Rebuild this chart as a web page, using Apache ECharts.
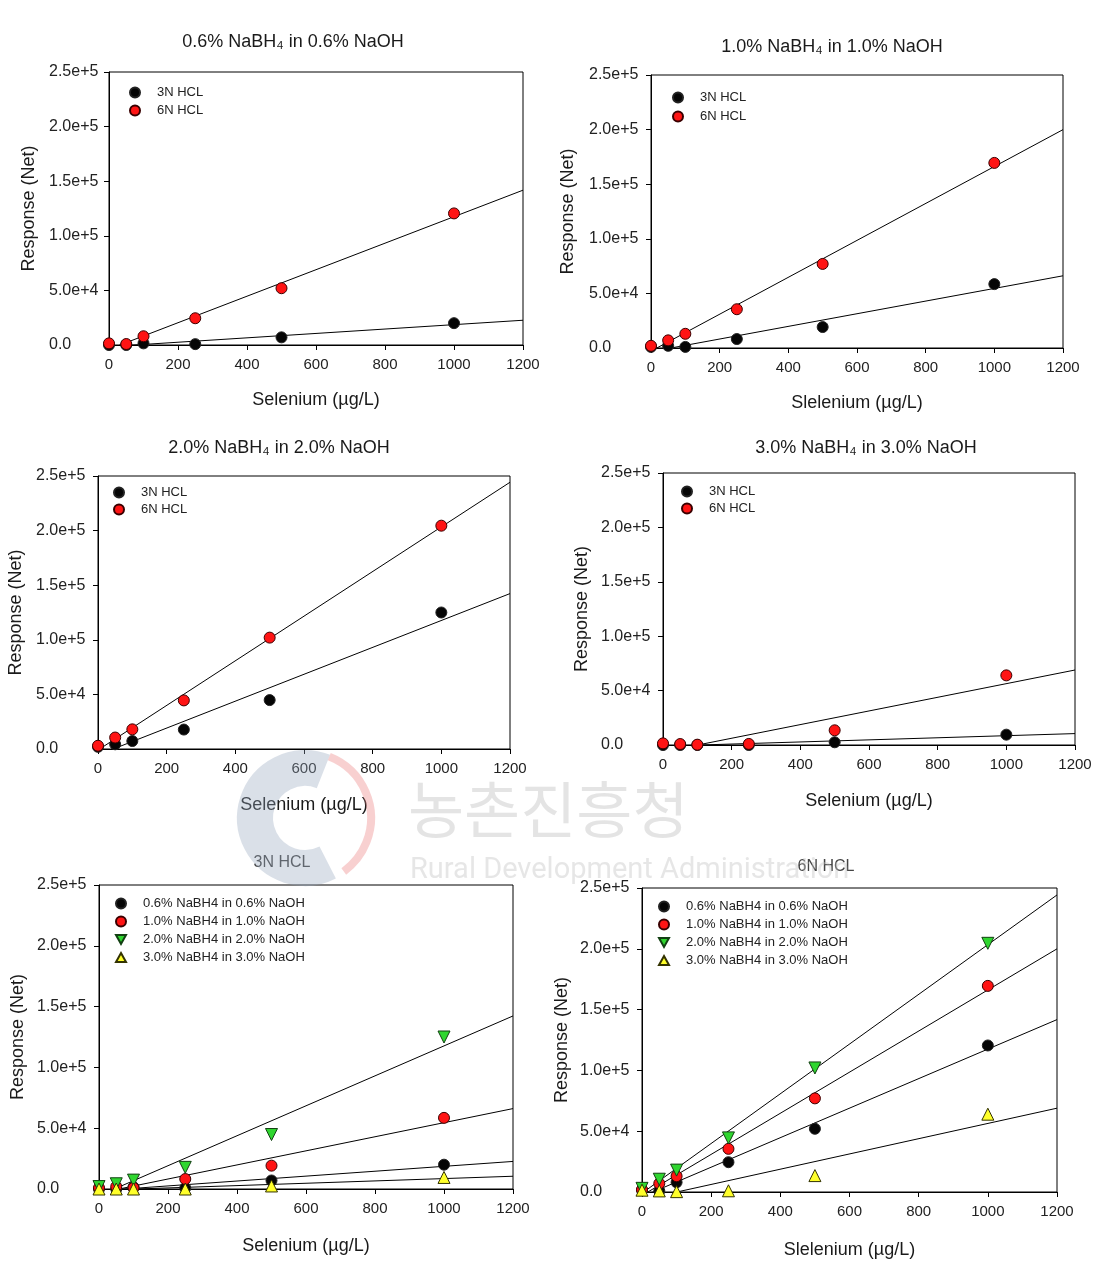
<!DOCTYPE html>
<html>
<head>
<meta charset="utf-8">
<script src="https://cdn.jsdelivr.net/npm/echarts@6/dist/echarts.min.js"></script>
<style>
html,body{margin:0;padding:0;background:#fff;}
#c{width:1106px;height:1269px;}
</style>
</head>
<body>
<div id="c"></div>
<script>
// ---------------- data ----------------
const xValues = [0, 50, 100, 250, 500, 1000];

// 3N HCL responses
const n3_06 = [0, 0, 1500, 800, 7000, 20000];
const n3_10 = [1000, 2000, 1000, 8200, 19200, 58500];
const n3_20 = [2000, 4300, 7300, 17800, 44800, 125000];
const n3_30 = [0, 0, 0, 0, 2500, 9500];

// 6N HCL responses
const n6_06 = [1500, 900, 8000, 24500, 52000, 120500];
const n6_10 = [2000, 7000, 13000, 35500, 77000, 169500];
const n6_20 = [3000, 10500, 18000, 44500, 102000, 204500];
const n6_30 = [1500, 900, 300, 1000, 13500, 64000];

const panelTitles = ['0.6% NaBH₄ in 0.6% NaOH', '1.0% NaBH₄ in 1.0% NaOH', '2.0% NaBH₄ in 2.0% NaOH', '3.0% NaBH₄ in 3.0% NaOH', '3N HCL', '6N HCL'];
const xAxisNames = ['Selenium (µg/L)', 'Slelenium (µg/L)', 'Selenium (µg/L)', 'Selenium (µg/L)', 'Selenium (µg/L)', 'Slelenium (µg/L)'];
const yAxisName = 'Response (Net)';
const yTickLabels = ['0.0', '5.0e+4', '1.0e+5', '1.5e+5', '2.0e+5', '2.5e+5'];
const acidNames = ['3N HCL', '6N HCL'];
const reagentNames = ['0.6% NaBH4 in 0.6% NaOH', '1.0% NaBH4 in 1.0% NaOH', '2.0% NaBH4 in 2.0% NaOH', '3.0% NaBH4 in 3.0% NaOH'];

// ---------------- layout / style ----------------
const X_MIN = 0, X_MAX = 1200, X_INT = 200;
const Y_MIN = 0, Y_MAX = 250000, Y_INT = 50000;
const FONT = '"Liberation Sans", Arial, sans-serif';

const grids = [
  {left: 109, top: 72, width: 414, height: 273},
  {left: 651, top: 75, width: 412, height: 273},
  {left: 98, top: 476, width: 412, height: 273},
  {left: 663, top: 473, width: 412, height: 272},
  {left: 99, top: 885, width: 414, height: 304},
  {left: 642, top: 888, width: 415, height: 304}
];
const titlePos = [[293, 42], [832, 47], [279, 448], [866, 448], [282, 863], [826, 867]];
const xNameGap = [46, 46, 47, 47, 48, 49];
const yNameGap = [71, 74, 73, 72, 72, 71];
const yLabelMargin = [60, 62, 62, 62, 62, 62];
// left = marker centre - 5
const legendPos = [
  {left: 129, top: 86, itemGap: 5},
  {left: 672, top: 91, itemGap: 6},
  {left: 113, top: 486, itemGap: 4},
  {left: 681, top: 485, itemGap: 4},
  {left: 115, top: 897, itemGap: 5},
  {left: 658, top: 900, itemGap: 5}
];

const styles = {
  black:  {symbol: 'circle', size: 11, color: '#050505', border: '#222'},
  red:    {symbol: 'circle', size: 11, color: '#ff1414', border: '#3a0000'},
  green:  {symbol: 'path://M0,0L10,0L5,9Z', size: 12, color: '#2fd62f', border: '#124012'},
  yellow: {symbol: 'path://M5,0L10,9L0,9Z', size: 12, color: '#ffff2a', border: '#333300'}
};

function fit(ys) {
  const n = xValues.length;
  const mx = xValues.reduce((a, b) => a + b, 0) / n;
  const my = ys.reduce((a, b) => a + b, 0) / n;
  let sxy = 0, sxx = 0;
  for (let i = 0; i < n; i++) { sxy += (xValues[i] - mx) * (ys[i] - my); sxx += (xValues[i] - mx) ** 2; }
  const a = sxy / sxx, b = my - a * mx;
  return [[X_MIN, a * X_MIN + b], [X_MAX, a * X_MAX + b]];
}

const series = [];
function addPanelSeries(gi, name, ys, st) {
  series.push({
    type: 'line', xAxisIndex: gi, yAxisIndex: gi, data: fit(ys), symbol: 'none', silent: true,
    clip: true, lineStyle: {color: '#000', width: 1}, z: 1, animation: false
  });
  series.push({
    type: 'scatter', name: name, xAxisIndex: gi, yAxisIndex: gi,
    data: xValues.map((x, i) => [x, ys[i]]),
    symbol: st.symbol, symbolSize: st.size,
    itemStyle: {color: st.color, borderColor: st.border, borderWidth: 1, opacity: 1},
    z: 3, animation: false
  });
}

addPanelSeries(0, acidNames[0], n3_06, styles.black);
addPanelSeries(0, acidNames[1], n6_06, styles.red);
addPanelSeries(1, acidNames[0], n3_10, styles.black);
addPanelSeries(1, acidNames[1], n6_10, styles.red);
addPanelSeries(2, acidNames[0], n3_20, styles.black);
addPanelSeries(2, acidNames[1], n6_20, styles.red);
addPanelSeries(3, acidNames[0], n3_30, styles.black);
addPanelSeries(3, acidNames[1], n6_30, styles.red);

addPanelSeries(4, reagentNames[0], n3_06, styles.black);
addPanelSeries(4, reagentNames[1], n3_10, styles.red);
addPanelSeries(4, reagentNames[2], n3_20, styles.green);
addPanelSeries(4, reagentNames[3], n3_30, styles.yellow);

addPanelSeries(5, reagentNames[0], n6_06, styles.black);
addPanelSeries(5, reagentNames[1], n6_10, styles.red);
addPanelSeries(5, reagentNames[2], n6_20, styles.green);
addPanelSeries(5, reagentNames[3], n6_30, styles.yellow);

const gridOpts = grids.map(g => Object.assign({show: true, borderColor: '#000', borderWidth: 1, backgroundColor: 'transparent'}, g));

const xAxes = grids.map((g, i) => ({
  gridIndex: i, type: 'value', min: X_MIN, max: X_MAX, interval: X_INT,
  name: xAxisNames[i], nameLocation: 'middle', nameGap: xNameGap[i],
  nameTextStyle: {fontFamily: FONT, fontSize: 18, color: '#1a1a1a'},
  axisLine: {show: true, onZero: false, lineStyle: {color: '#000', width: 1}},
  axisTick: {show: true, inside: false, length: 5, lineStyle: {color: '#000'}},
  axisLabel: {fontFamily: FONT, fontSize: 15, color: '#222', margin: 12, formatter: v => String(v)},
  splitLine: {show: false}
}));

const yAxes = grids.map((g, i) => ({
  gridIndex: i, type: 'value', min: Y_MIN, max: Y_MAX, interval: Y_INT,
  name: yAxisName, nameLocation: 'middle', nameGap: yNameGap[i], nameRotate: 90,
  nameTextStyle: {fontFamily: FONT, fontSize: 18, color: '#1a1a1a'},
  axisLine: {show: true, onZero: false, lineStyle: {color: '#000', width: 1}},
  axisTick: {show: true, inside: false, length: 5, lineStyle: {color: '#000'}},
  axisLabel: {fontFamily: FONT, fontSize: 16, color: '#222', margin: yLabelMargin[i], align: 'left',
    formatter: v => yTickLabels[Math.round((v - Y_MIN) / Y_INT)]},
  splitLine: {show: false}
}));

const legends = legendPos.map((p, i) => ({
  data: i < 4 ? acidNames.slice() : reagentNames.slice(),
  orient: 'vertical', left: p.left, top: p.top, itemGap: p.itemGap,
  itemWidth: 10, itemHeight: 10, padding: 0, selectedMode: false,
  textStyle: {fontFamily: FONT, fontSize: 13, color: '#222', padding: [0, 0, 0, 12]}
}));

const graphics = titlePos.map((p, i) => ({
  type: 'text', x: p[0], y: p[1], z: 10,
  style: {
    text: panelTitles[i], fill: i < 4 ? '#1a1a1a' : '#444',
    font: (i < 4 ? 18 : 16) + 'px ' + FONT,
    textAlign: 'center', textVerticalAlign: 'middle', align: 'center', verticalAlign: 'middle'
  }
}));

// faint watermark of the source document
graphics.push(
  {type: 'arc', z: 50, silent: true, shape: {cx: 305, cy: 818, r: 50, startAngle: Math.PI * 0.35, endAngle: Math.PI * 1.62, clockwise: true},
   style: {stroke: 'rgba(150,165,190,0.35)', lineWidth: 36, fill: null}},
  {type: 'arc', z: 50, silent: true, shape: {cx: 305, cy: 818, r: 66, startAngle: Math.PI * 1.62, endAngle: Math.PI * 2.3, clockwise: true},
   style: {stroke: 'rgba(235,120,120,0.35)', lineWidth: 8, fill: null}},
  {type: 'text', z: 50, silent: true, x: 408, y: 810,
   style: {text: '농촌진흥청', fill: 'rgba(190,190,190,0.42)', font: '61px "Noto Sans CJK KR", sans-serif',
           textAlign: 'left', textVerticalAlign: 'middle', align: 'left', verticalAlign: 'middle'}},
  {type: 'text', z: 50, silent: true, x: 410, y: 871,
   style: {text: 'Rural Development Administration', fill: 'rgba(195,195,195,0.42)', font: '29px Roboto, "Liberation Sans", sans-serif',
           textAlign: 'left', textVerticalAlign: 'middle', align: 'left', verticalAlign: 'middle'}}
);

const chart = echarts.init(document.getElementById('c'), null, {renderer: 'canvas'});
chart.setOption({
  animation: false,
  backgroundColor: '#fff',
  grid: gridOpts,
  xAxis: xAxes,
  yAxis: yAxes,
  legend: legends,
  graphic: {elements: graphics},
  series: series
});
</script>
</body>
</html>
